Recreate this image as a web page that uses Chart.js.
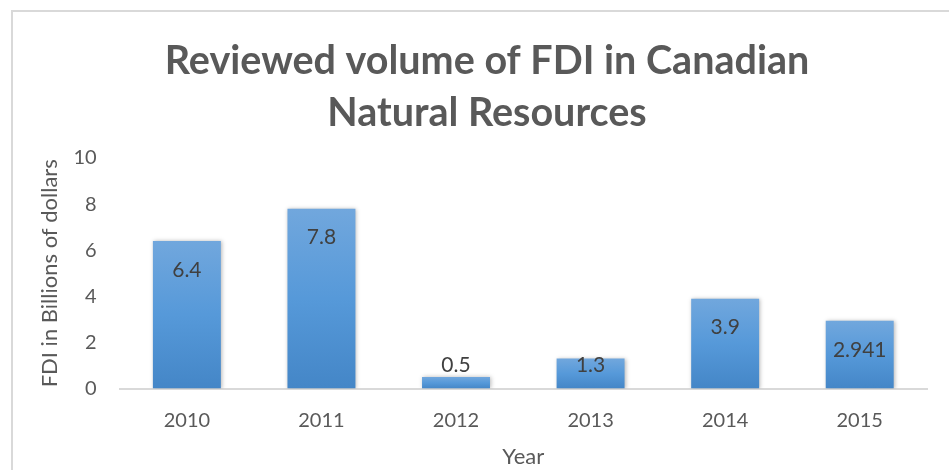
<!DOCTYPE html>
<html>
<head>
<meta charset="utf-8">
<script src="https://cdn.jsdelivr.net/npm/chart.js@4.4.1/dist/chart.umd.min.js"></script>
<style>
  html, body { margin: 0; padding: 0; background: #fff; }
  #wrap { position: relative; width: 949px; height: 470px; overflow: hidden; }
  #frame { position: absolute; left: 11px; top: 10px; width: 1000px; height: 1000px;
           border-left: 2px solid #d9d9d9; border-top: 2px solid #d9d9d9; }
  #chart { position: absolute; left: 0; top: 0; }
</style>
</head>
<body>
<div id="wrap">
  <div id="frame"></div>
  <canvas id="chart" width="949" height="470"></canvas>
</div>
<script>
// data
const years = ['2010', '2011', '2012', '2013', '2014', '2015'];
const fdiValues = [6.4, 7.8, 0.5, 1.3, 3.9, 2.941];
const yTicks = [0, 2, 4, 6, 8, 10];
const titleLines = ['Reviewed volume of FDI in Canadian', 'Natural Resources'];

const grey = '#595959';
const fontName = 'Lato, "Open Sans", sans-serif';

// each bar gets its own top->bottom gradient, like the office chart
function barColor(context) {
  const chart = context.chart;
  if (!chart.chartArea) return '#5b9bd5';
  const y = chart.scales.y;
  const top = y.getPixelForValue(context.raw);
  const bottom = y.getPixelForValue(0);
  if (!isFinite(top) || top === bottom) return '#5b9bd5';
  const g = chart.ctx.createLinearGradient(0, top, 0, bottom);
  g.addColorStop(0, '#71a7dd');
  g.addColorStop(0.5, '#5699d9');
  g.addColorStop(1, '#4486c7');
  return g;
}

const barShadow = {
  id: 'barShadow',
  beforeDatasetsDraw(chart) {
    const ctx = chart.ctx;
    ctx.save();
    ctx.shadowColor = 'rgba(0,0,0,0.28)';
    ctx.shadowBlur = 4;
    ctx.shadowOffsetX = 1;
    ctx.shadowOffsetY = 0;
  },
  afterDatasetsDraw(chart) {
    chart.ctx.restore();
  }
};

const valueLabels = {
  id: 'valueLabels',
  afterDatasetsDraw(chart) {
    const ctx = chart.ctx;
    const meta = chart.getDatasetMeta(0);
    ctx.save();
    ctx.font = '21px ' + fontName;
    ctx.fillStyle = '#404040';
    ctx.textAlign = 'center';
    ctx.textBaseline = 'middle';
    meta.data.forEach(function (bar, i) {
      const cy = Math.min(bar.y + 29, bar.base - 23);
      ctx.fillText(String(fdiValues[i]), bar.x, cy);
    });
    ctx.restore();
  }
};

new Chart(document.getElementById('chart'), {
  type: 'bar',
  data: {
    labels: years,
    datasets: [{
      label: 'FDI',
      data: fdiValues,
      backgroundColor: barColor,
      borderWidth: 0,
      categoryPercentage: 1,
      barPercentage: 0.505
    }]
  },
  options: {
    responsive: false,
    animation: false,
    layout: { padding: { top: 12, left: 47, right: 22, bottom: 0 } },
    plugins: {
      legend: { display: false },
      tooltip: { enabled: false },
      title: {
        display: true,
        text: titleLines,
        color: grey,
        font: { family: fontName, size: 39.5, weight: 'bold', lineHeight: 1.316 },
        padding: { top: 23, bottom: 19 }
      }
    },
    scales: {
      x: {
        grid: { display: false, drawTicks: false },
        border: { display: true, color: '#d9d9d9', width: 2 },
        ticks: { color: grey, font: { family: fontName, size: 20 }, padding: 20 },
        title: { display: true, text: 'Year', color: grey,
                 font: { family: fontName, size: 22 }, padding: { top: -9, bottom: 0 } }
      },
      y: {
        min: 0,
        max: 10,
        afterBuildTicks(scale) { scale.ticks = yTicks.map(v => ({ value: v })); },
        grid: { display: false, drawTicks: false },
        border: { display: false },
        ticks: { color: grey, font: { family: fontName, size: 20 }, padding: 23 },
        title: { display: true, text: 'FDI in Billions of dollars', color: grey,
                 font: { family: fontName, size: 22 }, padding: { top: -10, bottom: -13 } }
      }
    }
  },
  plugins: [barShadow, valueLabels]
});
</script>
</body>
</html>
